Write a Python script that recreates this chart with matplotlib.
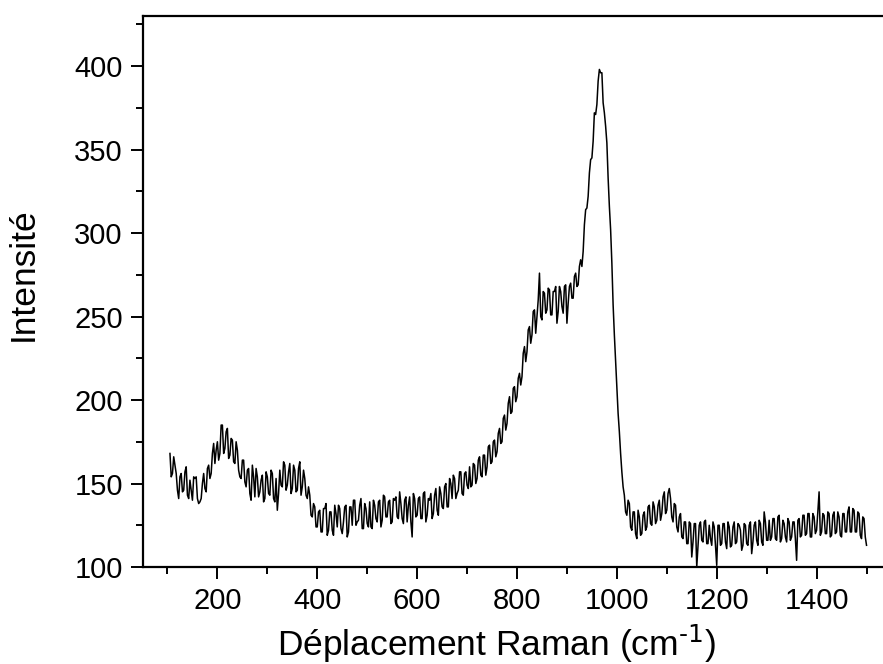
import numpy as np
import matplotlib.pyplot as plt

plt.rcParams['font.family'] = ['Liberation Sans', 'DejaVu Sans']
plt.rcParams['mathtext.default'] = 'regular'

# Déplacement Raman (cm-1): points lus tous les 5 cm-1, plus les points intermédiaires
deplacement = np.arange(105, 1501, 5)
deplacement_mi = np.arange(107.5, 1500, 5)

intensite = [
    168, 156, 161, 146, 154, 145, 157, 143, 152, 140,   # 105-150
    153, 141, 139, 150, 147, 159, 153, 168, 162, 175,   # 155-200
    168, 185, 171, 183, 167, 176, 162, 170, 154, 164,   # 205-250
    151, 158, 144, 161, 142, 154, 145, 155, 141, 154,   # 255-300
    143, 156, 139, 134, 158, 148, 161, 149, 162, 147,   # 305-350
    158, 146, 163, 148, 153, 141, 143, 130, 136, 124,   # 355-400
    134, 121, 135, 119, 133, 122, 137, 124, 135, 120,   # 405-450
    136, 118, 136, 125, 140, 127, 137, 123, 138, 126,   # 455-500
    139, 123, 137, 127, 140, 128, 142, 130, 140, 127,   # 505-550
    140, 130, 145, 129, 140, 127, 142, 118, 141, 131,   # 555-600
    142, 129, 145, 131, 140, 129, 143, 134, 148, 136,   # 605-650
    148, 136, 153, 141, 153, 144, 157, 144, 156, 149,   # 655-700
    160, 149, 161, 153, 166, 154, 167, 160, 173, 163,   # 705-750
    176, 169, 183, 175, 191, 186, 202, 193, 208, 202,   # 755-800
    216, 214, 232, 229, 244, 239, 254, 250, 276, 248,   # 805-850
    264, 254, 266, 251, 265, 246, 268, 256, 268, 246,   # 855-900
    268, 261, 274, 268, 280, 280, 305, 315, 336, 345,   # 905-950
    372, 377, 398, 396, 372, 354, 316, 282, 239, 206,   # 955-1000
    181, 157, 143, 131, 138, 122, 133, 117, 130, 120,   # 1005-1050
    133, 124, 137, 125, 136, 128, 140, 132, 145, 134,   # 1055-1100
    147, 130, 138, 124, 130, 118, 127, 114, 127, 106,   # 1105-1150
    126, 100, 125, 116, 127, 114, 125, 113, 124, 101,   # 1155-1200
    125, 114, 126, 111, 124, 113, 127, 115, 125, 110,   # 1205-1250
    126, 114, 125, 108, 125, 116, 128, 115, 133, 116,   # 1255-1300
    128, 118, 129, 116, 131, 117, 126, 115, 127, 118,   # 1305-1350
    127, 104, 129, 119, 131, 120, 132, 118, 130, 122,   # 1355-1400
    145, 121, 131, 120, 132, 119, 133, 121, 130, 118,   # 1405-1450
    132, 121, 136, 121, 134, 121, 132, 117, 129, 113,   # 1455-1500
]

intensite_mi = [
    154, 166, 156, 141, 156, 146, 160, 141, 146, 154,   # 107.5-152.5
    154, 138, 141, 156, 145, 161, 156, 174, 170, 164,   # 157.5-202.5
    185, 168, 181, 165, 177, 163, 175, 158, 153, 164,   # 207.5-252.5
    148, 159, 140, 154, 159, 142, 152, 139, 157, 144,   # 257.5-302.5
    158, 141, 153, 144, 149, 163, 146, 157, 144, 161,   # 307.5-352.5
    145, 159, 143, 158, 143, 148, 131, 138, 124, 133,   # 357.5-402.5
    121, 135, 138, 122, 133, 119, 132, 137, 123, 127,   # 407.5-452.5
    137, 121, 136, 140, 125, 128, 141, 123, 135, 124,   # 457.5-502.5
    124, 140, 129, 139, 124, 143, 130, 139, 126, 141,   # 507.5-552.5
    142, 129, 138, 126, 142, 137, 127, 144, 130, 141,   # 557.5-602.5
    129, 144, 127, 141, 144, 132, 147, 131, 144, 135,   # 607.5-652.5
    150, 136, 150, 155, 141, 146, 157, 143, 157, 147,   # 657.5-702.5
    148, 162, 150, 164, 155, 167, 155, 172, 162, 175,   # 707.5-752.5
    166, 180, 174, 189, 182, 198, 192, 207, 199, 213,   # 757.5-802.5
    209, 228, 223, 242, 234, 253, 240, 260, 250, 265,   # 807.5-852.5
    252, 267, 251, 265, 268, 253, 265, 252, 269, 258,   # 857.5-902.5
    270, 261, 276, 269, 284, 289, 314, 322, 344, 355,   # 907.5-952.5
    371, 391, 396, 378, 364, 333, 302, 257, 223, 192,   # 957.5-1002.5
    168, 148, 133, 140, 124, 133, 120, 134, 119, 131,   # 1007.5-1052.5
    122, 136, 126, 139, 126, 137, 128, 142, 132, 144,   # 1057.5-1102.5
    141, 127, 137, 121, 132, 117, 127, 114, 126, 115,   # 1107.5-1152.5
    126, 112, 127, 115, 128, 114, 117, 127, 113, 125,   # 1157.5-1202.5
    113, 126, 115, 127, 112, 124, 114, 126, 122, 113,   # 1207.5-1252.5
    125, 113, 127, 115, 127, 113, 126, 113, 127, 116,   # 1257.5-1302.5
    116, 129, 117, 130, 115, 128, 118, 129, 116, 127,   # 1307.5-1352.5
    117, 128, 118, 131, 119, 132, 118, 132, 120, 133,   # 1357.5-1402.5
    119, 132, 120, 133, 118, 131, 120, 133, 119, 132,   # 1407.5-1452.5
    121, 133, 121, 135, 121, 133, 119, 130, 118,        # 1457.5-1497.5
]

xticks = [200, 400, 600, 800, 1000, 1200, 1400]
yticks = [100, 150, 200, 250, 300, 350, 400]

# on entrelace les deux séries de points
x = np.empty(len(deplacement) + len(deplacement_mi))
y = np.empty_like(x)
x[0::2], x[1::2] = deplacement, deplacement_mi
y[0::2], y[1::2] = intensite, intensite_mi

fig = plt.figure(figsize=(8.83, 6.64), dpi=100)
ax = fig.add_axes([143 / 883, 97 / 664, 740 / 883, 551 / 664])

ax.plot(x, y, color='black', lw=1.1)

ax.set_xlim(51, 1533)
ax.set_ylim(100, 430)
ax.set_xticks(xticks)
ax.set_yticks(yticks)
ax.set_xticks(np.arange(100, 1501, 100), minor=True)
ax.set_yticks(np.arange(125, 430, 25), minor=True)

ax.spines['right'].set_visible(False)
for s in ['left', 'bottom', 'top']:
    ax.spines[s].set_linewidth(1.6)

ax.tick_params(which='major', direction='out', length=8.5, width=1.4,
               labelsize=21, pad=6)
ax.tick_params(which='minor', direction='out', length=5, width=1.4)
ax.tick_params(top=False, right=False, which='both')

ax.set_xlabel(r'Déplacement Raman (cm$^{\text{-1}}$)', fontsize=25.5)
ax.set_ylabel('Intensité', fontsize=25.5)
ax.xaxis.set_label_coords(0.477, -0.1)
ax.yaxis.set_label_coords(-0.139, 0.531)

fig.savefig('out.png', dpi=100)
